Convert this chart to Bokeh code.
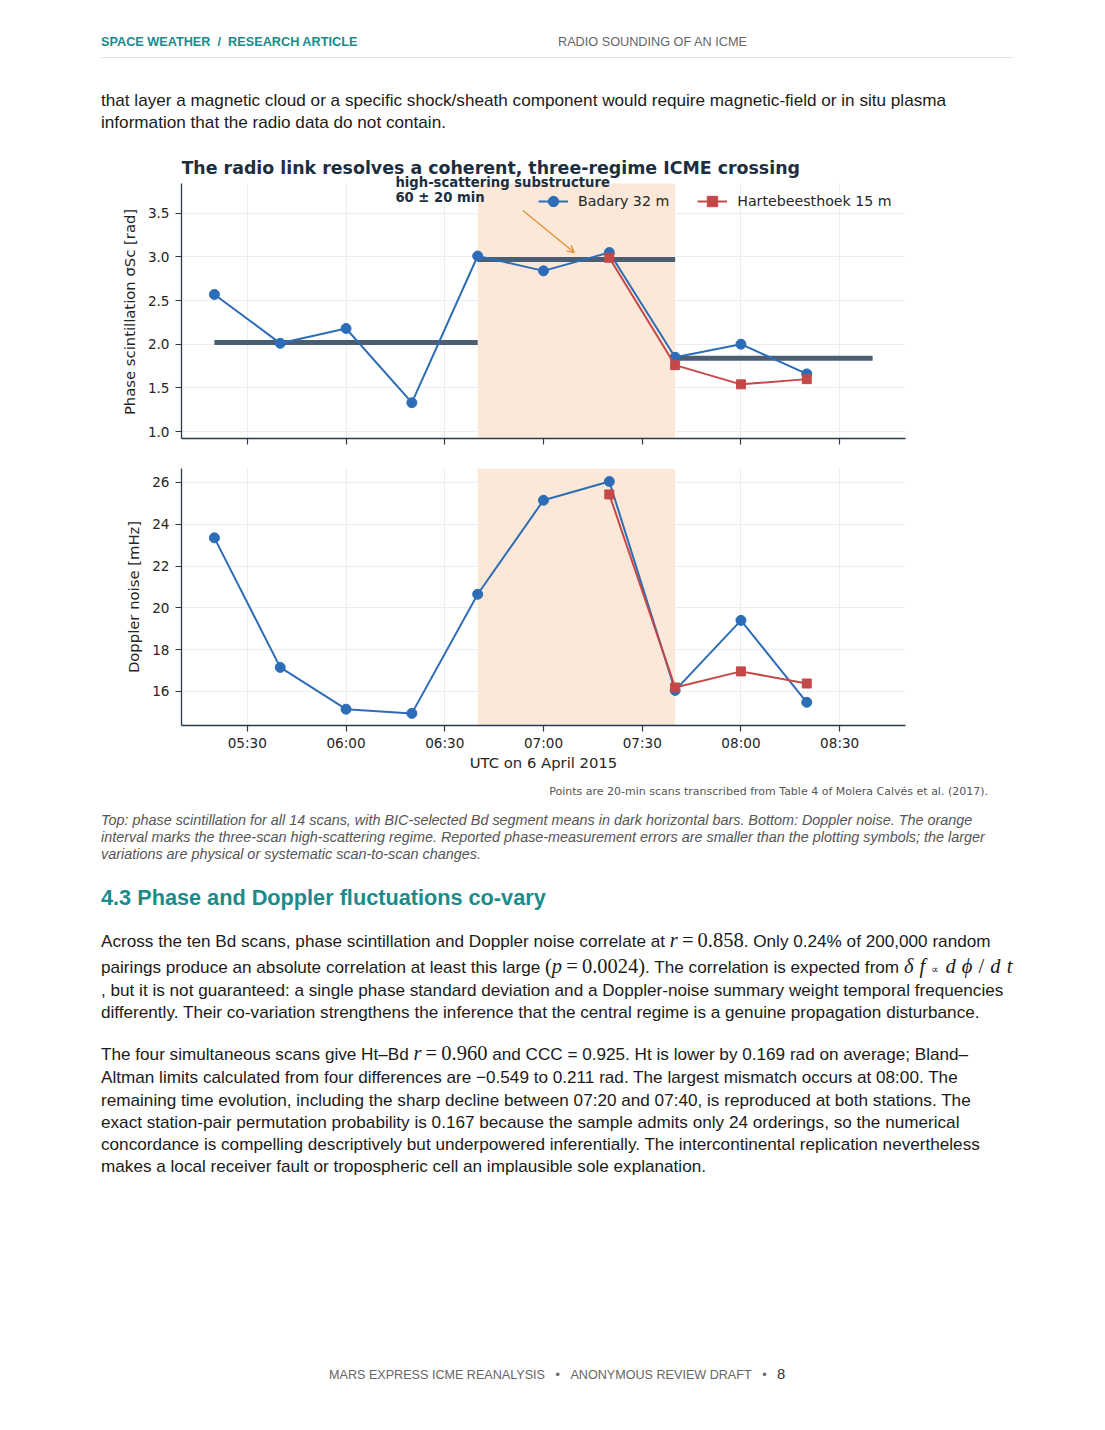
import numpy as np
import pandas as pd
from bokeh.plotting import figure
from bokeh.models import (Range1d, FixedTicker, DatetimeTickFormatter, BoxAnnotation, PrintfTickFormatter,
                          Label, Arrow, OpenHead, Legend, LegendItem, Div, ColumnDataSource)
from bokeh.layouts import column
from bokeh.embed import file_html
from bokeh.resources import INLINE

# ---------------- data ----------------
DATE = "2015-04-06"
scan_times = ["05:20", "05:40", "06:00", "06:20", "06:40", "07:00", "07:20", "07:40", "08:00", "08:20"]
bd_phase = [2.57, 2.01, 2.18, 1.33, 3.01, 2.84, 3.05, 1.85, 2.00, 1.66]
bd_doppler = [23.35, 17.15, 15.15, 14.95, 20.65, 25.15, 26.05, 16.05, 19.40, 15.48]
ht_times = ["07:20", "07:40", "08:00", "08:20"]
ht_phase = [2.99, 1.76, 1.54, 1.60]
ht_doppler = [25.43, 16.19, 16.96, 16.38]
seg_start = ["05:20", "06:40", "07:40"]
seg_end = ["06:40", "07:40", "08:40"]
seg_mean = [2.02, 2.97, 1.84]
regime = ["06:40", "07:40"]
x_limits = ["05:10", "08:50"]
xtick_labels = ["05:30", "06:00", "06:30", "07:00", "07:30", "08:00", "08:30"]
phase_ticks = [1.0, 1.5, 2.0, 2.5, 3.0, 3.5]
doppler_ticks = [16, 18, 20, 22, 24, 26]
phase_limits = [0.92, 3.84]
doppler_limits = [14.37, 26.67]
PHASE_HEADROOM = 4.1955   # extra room above the axes for the title / annotation


def ts(s):
    return pd.Timestamp(f"{DATE} {s}")


def ms(s):
    return ts(s).value / 1e6


BLUE = "#2d6db7"
RED = "#c54848"
BAR = "#4b5d71"
BAND = "#fbe8d8"
ORANGE = "#e0912c"
AXIS = "#2b3a4a"
GRID = "#e9eef3"
TXT = "#262626"
TITLE = "#1c2e40"
FONT = "DejaVu Sans"

x_range = Range1d(ms(x_limits[0]), ms(x_limits[1]))

bd_src = ColumnDataSource(dict(t=[ts(s) for s in scan_times], phase=bd_phase, dop=bd_doppler))
ht_src = ColumnDataSource(dict(t=[ts(s) for s in ht_times], phase=ht_phase, dop=ht_doppler))
seg_src = ColumnDataSource(dict(x0=[ts(s) for s in seg_start], x1=[ts(s) for s in seg_end], y=seg_mean))


def style(p, yticks, ylabel, yfmt, ylim=None):
    p.outline_line_color = None
    p.background_fill_color = "white"
    p.border_fill_color = "white"
    for ax in (p.xaxis[0], p.yaxis[0]):
        ax.axis_line_color = AXIS
        ax.axis_line_width = 1.3
        ax.major_tick_line_color = AXIS
        ax.major_tick_line_width = 1.2
        ax.major_tick_out = 6
        ax.major_tick_in = 0
        ax.minor_tick_line_color = None
        ax.major_label_text_font = FONT
        ax.major_label_text_font_size = "13.6px"
        ax.major_label_text_color = TXT
        ax.axis_label_text_font = FONT
        ax.axis_label_text_font_size = "14.8px"
        ax.axis_label_text_font_style = "normal"
        ax.axis_label_text_color = TXT
    p.xaxis[0].ticker = FixedTicker(ticks=[ms(s) for s in xtick_labels])
    p.xaxis[0].formatter = DatetimeTickFormatter(minutes="%H:%M", hourmin="%H:%M", hours="%H:%M",
                                                 minsec="%H:%M", days="%H:%M")
    p.xaxis[0].major_label_standoff = 3
    p.xaxis[0].axis_label_standoff = 0
    p.yaxis[0].ticker = FixedTicker(ticks=yticks)
    p.yaxis[0].formatter = PrintfTickFormatter(format=yfmt)
    p.yaxis[0].axis_label = ylabel
    p.yaxis[0].major_label_standoff = 6
    p.yaxis[0].axis_label_standoff = 7
    p.xgrid.grid_line_color = GRID
    p.ygrid.grid_line_color = GRID
    p.xgrid.ticker = p.xaxis[0].ticker
    p.ygrid.ticker = p.yaxis[0].ticker
    kw = {}
    if ylim is not None:
        p.yaxis[0].bounds = tuple(ylim)
        p.xgrid.cross_bounds = tuple(ylim)
        kw = dict(bottom=ylim[0], top=ylim[1])
    band = BoxAnnotation(left=ms(regime[0]), right=ms(regime[1]), fill_color=BAND, fill_alpha=1.0,
                         line_color=None, level="underlay", **kw)
    p.add_layout(band)


# ---------------- top panel ----------------
p1 = figure(width=1089, height=303, x_axis_type="datetime", x_range=x_range,
            y_range=Range1d(phase_limits[0], PHASE_HEADROOM), output_backend="svg", toolbar_location=None,
            min_border_left=173, min_border_right=192, min_border_top=2, min_border_bottom=15,
            margin=0)
style(p1, phase_ticks, "Phase scintillation  \u03c3Sc  [rad]" + "\u00a0" * 5, "%.1f", ylim=phase_limits)
# shared x axis: the upper panel keeps its ticks but shows no tick labels
p1.xaxis[0].major_label_overrides = {ms(s): "" for s in xtick_labels}
p1.xaxis[0].major_label_standoff = 0

p1.segment(x0="x0", y0="y", x1="x1", y1="y", source=seg_src, line_color=BAR, line_width=5)
b_line = p1.line("t", "phase", source=bd_src, line_color=BLUE, line_width=2)
b_pts = p1.scatter("t", "phase", source=bd_src, marker="circle", size=10, fill_color=BLUE, line_color=BLUE)
h_line = p1.line("t", "phase", source=ht_src, line_color=RED, line_width=2)
h_pts = p1.scatter("t", "phase", source=ht_src, marker="square", size=9, fill_color=RED, line_color=RED)

legend = Legend(items=[LegendItem(label="Badary 32 m", renderers=[b_line, b_pts]),
                       LegendItem(label="Hartebeesthoek 15 m", renderers=[h_line, h_pts])],
                orientation="horizontal", location=(357, 224), margin=0, padding=5,
                spacing=28, glyph_width=30, glyph_height=26, label_standoff=10,
                label_text_font=FONT, label_text_font_size="14.2px", label_text_color=TXT,
                background_fill_alpha=0, border_line_color=None)
p1.add_layout(legend)

chart_title = Label(x=ms(x_limits[0]), y=4.0235, text="The radio link resolves a coherent, three-regime ICME crossing",
                    text_font=FONT, text_font_size="17.4px", text_font_style="bold", text_color=TITLE,
                    text_baseline="middle", text_align="left")
p1.add_layout(chart_title)

ann = Label(x=ms("06:15"), y=3.936, text="high-scattering substructure\n60 \u00b1 20 min",
            text_font=FONT, text_font_size="13.2px", text_font_style="bold", text_color=TITLE,
            text_baseline="top", text_align="left", text_line_height=1.0)
p1.add_layout(ann)
arrow = Arrow(x_start=ms("06:53:45"), y_start=3.53, x_end=ms("07:09:20"), y_end=3.05,
              line_color=ORANGE, line_width=1.3,
              end=OpenHead(size=7, line_color=ORANGE, line_width=1.3))
p1.add_layout(arrow)

# ---------------- bottom panel ----------------
p2 = figure(width=1089, height=329, x_axis_type="datetime", x_range=x_range,
            y_range=Range1d(*doppler_limits), output_backend="svg", toolbar_location=None,
            min_border_left=173, min_border_right=192, min_border_top=15, min_border_bottom=57,
            margin=0)
style(p2, doppler_ticks, "Doppler noise [mHz]", "%d")
p2.xaxis[0].axis_label = "UTC on 6 April 2015"
p2.line("t", "dop", source=bd_src, line_color=BLUE, line_width=2)
p2.scatter("t", "dop", source=bd_src, marker="circle", size=10, fill_color=BLUE, line_color=BLUE)
p2.line("t", "dop", source=ht_src, line_color=RED, line_width=2)
p2.scatter("t", "dop", source=ht_src, marker="square", size=9, fill_color=RED, line_color=RED)

# ---------------- text blocks ----------------
SANS = "'Liberation Sans', Arial, sans-serif"
TEAL = "#1a8b8b"
BODY = 17.15

top_html = f"""
<div style="position:relative;width:1089px;height:142px;font-family:{SANS};">
 <div style="position:absolute;left:93px;top:26px;font-size:12.7px;line-height:16px;font-weight:bold;color:{TEAL};white-space:nowrap;">SPACE WEATHER&nbsp;&nbsp;/&nbsp;&nbsp;RESEARCH ARTICLE</div>
 <div style="position:absolute;left:550px;top:26px;font-size:12.7px;line-height:16px;color:#666;white-space:nowrap;">RADIO SOUNDING OF AN ICME</div>
 <div style="position:absolute;left:93px;top:49px;width:912px;height:1px;background:#e4e4e4;"></div>
 <div style="position:absolute;left:93px;top:81px;font-size:{BODY}px;line-height:22px;color:#1a1a1a;white-space:nowrap;">that layer a magnetic cloud or a specific shock/sheath component would require magnetic-field or in situ plasma<br>information that the radio data do not contain.</div>
</div>
"""

MATH = "font-family:'Liberation Serif','Times New Roman',serif;font-size:20.5px;"


def m(s, extra=""):
    return f'<span style="{MATH}{extra}">{s}</span>'


r858 = m("<i>r</i>&#8201;=&#8201;0.858")
p0024 = m("(<i>p</i>&#8201;=&#8201;0.0024)")
dfdt = m("<i>&delta;&#8201;f</i>&#8201;<span style='font-size:11px'>&prop;</span>&#8201;<i>d&#8201;&#981;</i>&#8201;/&#8201;<i>d&#8201;t</i>",
         "letter-spacing:1px;")
r960 = m("<i>r</i>&#8201;=&#8201;0.960")

para1 = [
    (940, f"Across the ten Bd scans, phase scintillation and Doppler noise correlate at {r858}. Only 0.24% of 200,000 random"),
    (966, f"pairings produce an absolute correlation at least this large {p0024}. The correlation is expected from {dfdt}"),
    (990, ", but it is not guaranteed: a single phase standard deviation and a Doppler-noise summary weight temporal frequencies"),
    (1012, "differently. Their co-variation strengthens the inference that the central regime is a genuine propagation disturbance."),
]
para2 = [
    (1053, f"The four simultaneous scans give Ht\u2013Bd {r960} and CCC = 0.925. Ht is lower by 0.169 rad on average; Bland\u2013"),
    (1077, "Altman limits calculated from four differences are \u22120.549 to 0.211 rad. The largest mismatch occurs at 08:00. The"),
    (1100, "remaining time evolution, including the sharp decline between 07:20 and 07:40, is reproduced at both stations. The"),
    (1122, "exact station-pair permutation probability is 0.167 because the sample admits only 24 orderings, so the numerical"),
    (1144, "concordance is compelling descriptively but underpowered inferentially. The intercontinental replication nevertheless"),
    (1166, "makes a local receiver fault or tropospheric cell an implausible sole explanation."),
]
Y0 = 782
lines_html = ""
for cy, txt in para1 + para2:
    lines_html += (f'<div style="position:absolute;left:93px;top:{cy - 14 - Y0}px;height:28px;line-height:28px;'
                   f'font-size:{BODY}px;color:#1a1a1a;white-space:nowrap;">{txt}</div>\n')

bottom_html = f"""
<div style="position:relative;width:1089px;height:630px;font-family:{SANS};">
 <div style="position:absolute;right:109px;top:3px;font-family:'DejaVu Sans';font-size:11px;line-height:13px;color:#555;white-space:nowrap;">Points are 20-min scans transcribed from Table 4 of Molera Calv&eacute;s et al. (2017).</div>
 <div style="position:absolute;left:93px;top:30px;font-size:14.4px;line-height:17px;font-style:italic;color:#555;white-space:nowrap;">Top: phase scintillation for all 14 scans, with BIC-selected Bd segment means in dark horizontal bars. Bottom: Doppler noise. The orange<br>interval marks the three-scan high-scattering regime. Reported phase-measurement errors are smaller than the plotting symbols; the larger<br>variations are physical or systematic scan-to-scan changes.</div>
 <div style="position:absolute;left:93px;top:103px;font-size:21.7px;line-height:26px;font-weight:bold;color:{TEAL};white-space:nowrap;">4.3 Phase and Doppler fluctuations co-vary</div>
 {lines_html}
 <div style="position:absolute;left:321px;top:584px;font-size:12.6px;line-height:16px;color:#666;white-space:nowrap;">MARS EXPRESS ICME REANALYSIS&nbsp;&nbsp;&nbsp;&bull;&nbsp;&nbsp;&nbsp;ANONYMOUS REVIEW DRAFT&nbsp;&nbsp;&nbsp;&bull;&nbsp;&nbsp;&nbsp;<span style="font-size:14.8px;color:#333;">8</span></div>
</div>
"""

div_top = Div(text=top_html, width=1089, height=142, margin=0)
div_bottom = Div(text=bottom_html, width=1089, height=630, margin=0)

page = column(div_top, p1, p2, div_bottom, spacing=0, margin=(8, 0, 0, 8))

open("out.html", "w").write(file_html(page, INLINE))
